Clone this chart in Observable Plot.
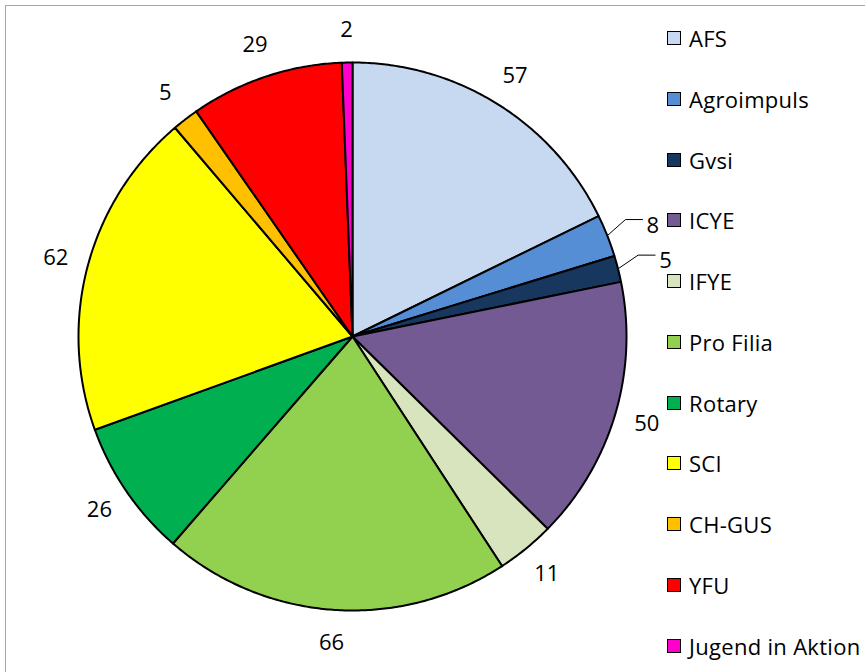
<!DOCTYPE html>
<html>
<head>
<meta charset="utf-8">
<script src="https://cdn.jsdelivr.net/npm/d3@7"></script>
<script src="https://cdn.jsdelivr.net/npm/@observablehq/plot@0.6"></script>
<style>
  html, body { margin: 0; padding: 0; background: #fff; overflow: hidden; }
  #wrap { position: relative; width: 865px; height: 672px; overflow: hidden; font-family: "Open Sans", sans-serif; }
  #frame { position: absolute; left: 5px; top: 5px; width: 1200px; height: 1200px; border-left: 1.5px solid #a6a6a6; border-top: 1.5px solid #a6a6a6; }
  #chart { position: absolute; left: 0; top: 0; }
  #legend { position: absolute; left: 667px; top: 0; }
  .row { position: absolute; left: 0; height: 22px; display: flex; align-items: center; white-space: nowrap; }
  .sw { width: 12px; height: 12px; border: 1.5px solid #000; box-sizing: content-box; margin-right: 8px; }
  .lab { font-size: 22px; color: #000; line-height: 22px; letter-spacing: 0.3px; }
</style>
</head>
<body>
<div id="wrap">
  <div id="frame"></div>
  <div id="chart"></div>
  <div id="legend"></div>
</div>
<script>
// ---- data ----
const names  = ["AFS", "Agroimpuls", "Gvsi", "ICYE", "IFYE", "Pro Filia", "Rotary", "SCI", "CH-GUS", "YFU", "Jugend in Aktion"];
const values = [57, 8, 5, 50, 11, 66, 26, 62, 5, 29, 2];
const colors = ["#C6D9F1", "#558ED5", "#17375E", "#735A93", "#D7E4BD", "#92D050", "#00B050", "#FFFF00", "#FFC000", "#FF0000", "#FF00CC"];
const leaderNames = ["Agroimpuls", "Gvsi"];

// ---- layout ----
const cx = 352, cy = 336, R = 274;
const labelR = 307 / R;      // label radius in unit-circle terms
const elbowR = 297 / R;
const elbowShift = -1.6 * Math.PI / 180;
const hseg = 17 / R;

const arcs = d3.pie().sort(null).value(d => d)(values);

// slice outlines (unit circle, angle measured clockwise from 12 o'clock)
const slices = [];
arcs.forEach((p, i) => {
  const n = Math.max(2, Math.ceil((p.endAngle - p.startAngle) / (Math.PI / 360)));
  slices.push({ name: names[i], x: 0, y: 0 });
  for (let k = 0; k <= n; k++) {
    const a = p.startAngle + (p.endAngle - p.startAngle) * k / n;
    slices.push({ name: names[i], x: Math.sin(a), y: Math.cos(a) });
  }
  slices.push({ name: names[i], x: 0, y: 0 });
});

const plain = [], led = [], leaders = [];
arcs.forEach((p, i) => {
  const a = (p.startAngle + p.endAngle) / 2;
  if (leaderNames.includes(names[i])) {
    const b = a + elbowShift;
    const ex = Math.sin(b) * elbowR, ey = Math.cos(b) * elbowR;
    leaders.push({ name: names[i], x: Math.sin(a), y: Math.cos(a) });
    leaders.push({ name: names[i], x: ex, y: ey });
    leaders.push({ name: names[i], x: ex + hseg, y: ey });
    led.push({ x: ex + hseg + 4 / R, y: ey, text: String(values[i]) });
  } else {
    plain.push({ x: Math.sin(a) * labelR, y: Math.cos(a) * labelR, text: String(values[i]) });
  }
});

const chart = Plot.plot({
  width: 865,
  height: 672,
  margin: 0,
  x: { domain: [-1, 1], range: [cx - R, cx + R], axis: null },
  y: { domain: [-1, 1], range: [cy + R, cy - R], axis: null },
  color: { domain: names, range: colors },
  style: { fontFamily: "'Open Sans', sans-serif", background: "transparent", overflow: "visible" },
  marks: [
    Plot.line(slices, { x: "x", y: "y", z: "name", fill: "name", stroke: "#000", strokeWidth: 2, strokeLinejoin: "round" }),
    Plot.line(leaders, { x: "x", y: "y", z: "name", stroke: "#000", strokeWidth: 1 }),
    Plot.text(plain, { x: "x", y: "y", text: "text", fontSize: 22, fill: "#000", textAnchor: "middle" }),
    Plot.text(led, { x: "x", y: "y", text: "text", fontSize: 22, fill: "#000", textAnchor: "start", dy: 6 })
  ]
});
document.getElementById("chart").appendChild(chart);

// ---- legend ----
const legend = document.getElementById("legend");
names.forEach((n, i) => {
  const row = document.createElement("div");
  row.className = "row";
  row.style.top = (38 + i * 60.75 - 11) + "px";
  const sw = document.createElement("div");
  sw.className = "sw";
  sw.style.background = colors[i];
  const lab = document.createElement("span");
  lab.className = "lab";
  lab.textContent = n;
  row.appendChild(sw);
  row.appendChild(lab);
  legend.appendChild(row);
});
</script>
</body>
</html>
